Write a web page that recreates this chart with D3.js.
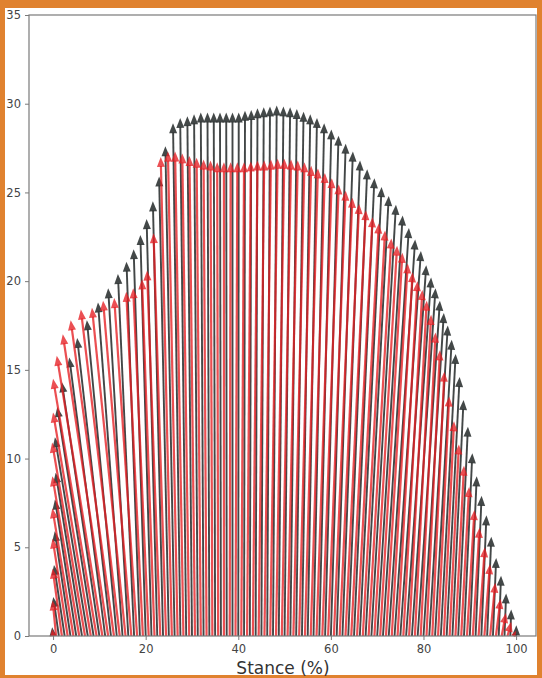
<!DOCTYPE html>
<html lang="en">
<head>
    <meta charset="UTF-8">
    <title>Stance vectors</title>
    <style>
        body { margin: 0; background: #fff; }
    </style>
</head>
<body>

    <svg id="svg" width="542" height="678"></svg>

    <script src="https://d3js.org/d3.v7.min.js"></script>
    <script>
        // stance positions (%) where each black vector starts
        const stance = [0, 1.25, 2.5, 3.75, 5, 6.25, 7.5, 8.75, 10, 11.25, 12.5, 13.75, 15, 16.25, 17.5, 18.75,
            20, 21.25, 22.5, 23.75, 25, 26.25, 27.5, 28.75, 30, 31.25, 32.5, 33.75, 35, 36.25, 37.5, 38.75,
            40, 41.25, 42.5, 43.75, 45, 46.25, 47.5, 48.75, 50, 51.25, 52.5, 53.75, 55, 56.25, 57.5, 58.75,
            60, 61.25, 62.5, 63.75, 65, 66.25, 67.5, 68.75, 70, 71.25, 72.5, 73.75, 75, 76.25, 77.5, 78.75,
            80, 81.25, 82.5, 83.75, 85, 86.25, 87.5, 88.75, 90, 91.25, 92.5, 93.75, 95, 96.25, 97.5, 98.75, 100]

        // stance positions (%) where each red vector starts
        const redStance = [0, 0.65, 1.9, 3.15, 4.4, 5.65, 6.9, 8.15, 9.4, 10.65, 11.9, 13.15, 14.4, 15.65, 16.9, 18.15,
            19.4, 20.65, 21.9, 23.15, 24.4, 25.65, 26.9, 28.15, 29.4, 30.65, 31.9, 33.15, 34.4, 35.65, 36.9, 38.15,
            39.4, 40.65, 41.9, 43.15, 44.4, 45.65, 46.9, 48.15, 49.4, 50.65, 51.9, 53.15, 54.4, 55.65, 56.9, 58.15,
            59.4, 60.65, 61.9, 63.15, 64.4, 65.65, 66.9, 68.15, 69.4, 70.65, 71.9, 73.15, 74.4, 75.65, 76.9, 78.15,
            79.4, 80.65, 81.9, 83.15, 84.4, 85.65, 86.9, 88.15, 89.4, 90.65, 91.9, 93.15, 94.4, 95.65, 96.9, 98.15, 99.4]

        // black vectors: vertical and horizontal components
        const blackY = [0.5, 2.2, 4.0, 5.9, 7.7, 9.2, 11.2, 12.9, 14.3, 15.7, 16.8, 17.8, 18.8, 19.6, 20.4, 21.1,
            21.8, 22.6, 23.5, 24.5, 25.9, 27.6, 28.9, 29.2, 29.3, 29.4, 29.5, 29.5, 29.5, 29.5, 29.5, 29.5,
            29.5, 29.6, 29.65, 29.75, 29.8, 29.85, 29.9, 29.85, 29.8, 29.7, 29.55, 29.4, 29.2, 28.9, 28.55, 28.2,
            27.75, 27.3, 26.8, 26.3, 25.8, 25.3, 24.8, 24.3, 23.7, 23.0, 22.35, 21.7, 20.9, 20.2, 19.6, 18.9,
            18.2, 17.5, 16.7, 15.9, 14.6, 13.3, 11.8, 10.3, 9.0, 7.9, 6.8, 5.6, 4.4, 3.4, 2.4, 1.5, 0.6]
        const blackX = [-0.2, -1.2, -2.3, -3.4, -4.6, -5.7, -7.1, -7.85, -8.1, -7.75, -7.3, -6.45, -5.3, -4.35, -3.5, -2.9,
            -2.6, -2.4, -2.3, -2.2, -2.1, -2.0, -1.6, -1.3, -1.0, -0.8, -0.6, -0.4, -0.3, -0.2, -0.1, 0,
            0.1, 0.2, 0.3, 0.4, 0.5, 0.6, 0.8, 1.0, 1.2, 1.4, 1.6, 1.8, 2.0, 2.3, 2.6, 2.9,
            3.2, 3.5, 3.8, 4.1, 4.4, 4.7, 5.0, 5.3, 5.5, 5.6, 5.7, 5.7, 5.6, 5.4, 5.1, 4.8,
            4.4, 4.0, 3.6, 3.2, 2.8, 2.4, 2.1, 1.8, 1.5, 1.3, 1.1, 0.9, 0.7, 0.5, 0.35, 0.2, 0.05]

        // red vectors
        const redY = [0.4, 2.0, 3.8, 5.5, 7.2, 9.0, 10.9, 12.6, 14.5, 15.8, 17.0, 17.8, 18.4, 18.5, 18.9, 19.05,
            19.4, 19.6, 20.1, 20.6, 22.7, 27.0, 27.3, 27.3, 27.2, 27.05, 26.95, 26.85, 26.8, 26.7, 26.7, 26.7,
            26.7, 26.7, 26.75, 26.8, 26.8, 26.85, 26.9, 26.9, 26.85, 26.8, 26.7, 26.5, 26.35, 26.1, 25.8, 25.45,
            25.1, 24.7, 24.35, 24.0, 23.6, 23.25, 22.85, 22.4, 22.0, 21.6, 21.0, 20.5, 20.0, 19.5, 18.9, 18.1,
            17.1, 16.1, 14.9, 13.5, 12.1, 10.8, 9.6, 8.4, 7.1, 6.1, 5.0, 4.05, 3.0, 2.1, 1.3, 0.8, 0.3]
        const redX = [-0.2, -0.75, -2.0, -3.25, -4.55, -5.8, -7.1, -8.15, -9.4, -9.85, -9.8, -9.35, -8.4, -7.25, -6.1, -4.95,
            -3.6, -3.35, -2.7, -2.85, -2.7, -2.4, -2.1, -1.8, -1.5, -1.2, -0.9, -0.65, -0.4, -0.2, 0, 0.2,
            0.4, 0.6, 0.8, 1.0, 1.2, 1.4, 1.6, 1.8, 2.0, 2.2, 2.4, 2.6, 2.8, 3.05, 3.3, 3.55,
            3.8, 4.0, 4.2, 4.4, 4.6, 4.7, 4.8, 4.9, 4.9, 4.8, 4.7, 4.5, 4.3, 4.1, 3.8, 3.5,
            3.2, 2.9, 2.6, 2.4, 2.2, 2.0, 1.85, 1.7, 1.6, 1.45, 1.35, 1.2, 1.1, 1.0, 0.9, 0.8, 0.6]

        const xTicks = [0, 20, 40, 60, 80, 100]
        const yTicks = [0, 5, 10, 15, 20, 25, 30, 35]

        const svg = d3.select('#svg')

        // orange frame around the figure
        svg.append('rect').attr('width', 542).attr('height', 678).attr('fill', '#e0822f')
        svg.append('rect').attr('x', 5).attr('y', 8).attr('width', 532).attr('height', 667).attr('fill', '#fff')

        const xScale = d3.scaleLinear().domain([-5.2, 104.3]).range([29, 536])
        const yScale = d3.scaleLinear().domain([0, 35]).range([636, 15])

        const plot = svg.append('g')

        function drawArrows(bases, ys, xs, color, opacity, width) {
            const data = bases.map((s, i) => ({ s: s, fx: xs[i], fy: ys[i] }))
            const g = plot.append('g')
            data.forEach(d => {
                const x0 = xScale(d.s), y0 = yScale(0)
                const x1 = xScale(d.s + d.fx), y1 = yScale(d.fy)
                const L = Math.hypot(x1 - x0, y1 - y0)
                const ux = (x1 - x0) / L, uy = (y1 - y0) / L
                const h = Math.min(10, L)
                const w = 4 * h / 10
                const bx = x1 - ux * h, by = y1 - uy * h
                g.append('line')
                    .attr('x1', x0).attr('y1', y0)
                    .attr('x2', bx + ux * 1).attr('y2', by + uy * 1)
                    .attr('stroke', color)
                    .attr('stroke-width', width)
                    .attr('opacity', opacity)
                g.append('path')
                    .attr('d', d3.line()([[x1, y1], [bx - uy * w, by + ux * w], [bx + uy * w, by - ux * w]]) + 'Z')
                    .attr('fill', color)
                    .attr('opacity', opacity)
            })
        }

        drawArrows(stance, blackY, blackX, '#2f3434', 0.9, 1.9)
        drawArrows(redStance, redY, redX, '#e61e22', 0.78, 2.2)

        // frame of the axes
        svg.append('rect')
            .attr('x', 29).attr('y', 15).attr('width', 507).attr('height', 621)
            .attr('fill', 'none').attr('stroke', '#7a7a7a').attr('stroke-width', 1.2)

        const xAxis = svg.append('g')
            .attr('transform', 'translate(0,636)')
            .call(d3.axisBottom(xScale).tickValues(xTicks).tickSize(4).tickPadding(5))
        const yAxis = svg.append('g')
            .attr('transform', 'translate(29,0)')
            .call(d3.axisLeft(yScale).tickValues(yTicks).tickSize(4).tickPadding(4))

        for (const ax of [xAxis, yAxis]) {
            ax.select('.domain').remove()
            ax.selectAll('line').attr('stroke', '#7a7a7a')
            ax.selectAll('text')
                .attr('fill', '#444')
                .style('font-family', 'DejaVu Sans')
                .style('font-size', '11.5px')
        }

        svg.append('text')
            .text('Stance (%)')
            .attr('x', 283)
            .attr('y', 674)
            .attr('text-anchor', 'middle')
            .attr('fill', '#333')
            .style('font-family', 'DejaVu Sans')
            .style('font-size', '17px')
    </script>
</body>
</html>
